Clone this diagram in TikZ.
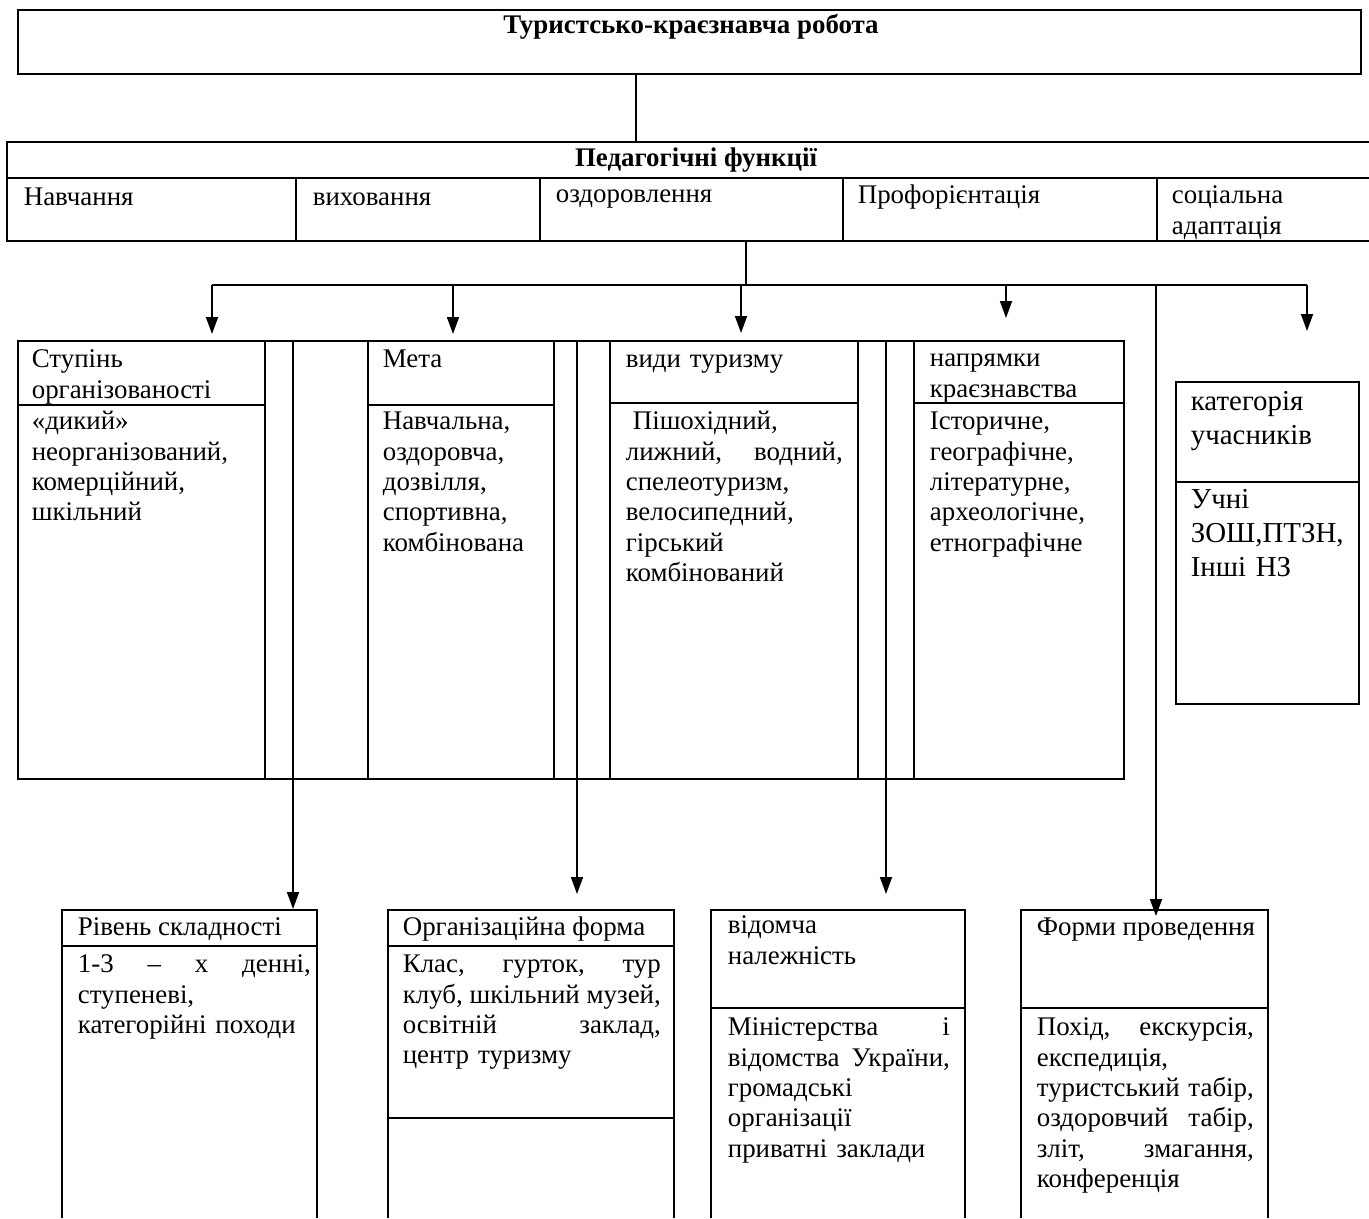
\documentclass[tikz,border=0pt]{standalone}
\usepackage{fontspec}
\setmainfont{Liberation Serif}
\usetikzlibrary{arrows.meta}
\setlength{\parindent}{0pt}
\newcommand{\jline}[1]{\leavevmode\hbox to \hsize{#1}}
\begin{document}
\begin{tikzpicture}[x=1bp,y=-1bp,line width=1.7bp,
  txt/.style={anchor=north west,inner sep=0pt,align=left,
    font={\fontsize{27}{30.5}\selectfont}},
  one/.style={anchor=base west,inner sep=0pt,font={\fontsize{27}{30.5}\selectfont}},
  bold/.style={anchor=base,inner sep=0pt,font={\fontsize{27}{30}\selectfont\bfseries}},
  arr/.style={-{Triangle[length=17bp,width=12bp]}},
  frame/.style={line width=1.8bp}]
\useasboundingbox (0,0) rectangle (1369,1218);

% ---------- top box ----------
\draw[frame] (18,10) rectangle (1361,74);
\node[bold] (title) at (691,33) {Туристсько-краєзнавча робота};
\coordinate (topS) at (636,74);
\coordinate (pedN) at (636,142);
\draw (topS) -- (pedN);

% ---------- pedagogical functions table ----------
\draw[frame] (1369,142) -- (7,142) -- (7,241) -- (1369,241);
\draw (7,178) -- (1369,178);
\foreach \xx in {296,540,843,1157} \draw (\xx,178) -- (\xx,241);
\node[bold] (ped) at (696,166) {Педагогічні функції};
\node[one] (f1) at (23,205) {Навчання};
\node[one] (f2) at (312,205) {виховання};
\node[one] (f3) at (555,202) {оздоровлення};
\node[one] (f4) at (857,203) {Профорієнтація};
\node[txt,text width=190bp] (f5) at (1171,181.6) {\strut соціальна\\адаптація};

% ---------- bus ----------
\coordinate (pedS) at (746,241);
\coordinate (busM) at (746,285);
\draw (pedS) -- (busM);
\coordinate (busL) at (212,285);
\coordinate (busR) at (1307,285);
\draw (busL) -- (busR);
\coordinate (b1) at (212,285);   \coordinate (t1) at (212,334);
\coordinate (b2) at (453,285);   \coordinate (t2) at (453,334);
\coordinate (b3) at (741,285);   \coordinate (t3) at (741,333);
\coordinate (b4) at (1006,285);  \coordinate (t4) at (1006,318);
\coordinate (b5) at (1307,285);  \coordinate (t5) at (1307,331);
\foreach \i in {1,...,5} \draw[arr] (b\i) -- (t\i);

% ---------- second row table ----------
\draw[frame] (18,341) rectangle (1124,779);
\foreach \xx in {265,368,554,610,858,914} \draw (\xx,341) -- (\xx,779);
\draw (18,405) -- (265,405);
\draw (368,405) -- (554,405);
\draw (610,403) -- (858,403);
\draw (914,403) -- (1124,403);

\node[txt,text width=230bp] (h1) at (31,345.6) {\strut Ступінь\\організованості};
\node[txt,text width=230bp] (c1) at (31,407.6) {\strut «дикий»\\неорганізований,\\комерційний,\\шкільний};
\node[txt,text width=170bp] (h2) at (382,345.6) {\strut Мета};
\node[txt,text width=170bp] (c2) at (382,407.6) {\strut Навчальна,\\оздоровча,\\дозвілля,\\спортивна,\\комбінована};
\node[txt,text width=217bp] (h3) at (625,345.6) {\strut види туризму};
\node[txt,text width=217bp] (c3) at (625,407.6) {\strut\hspace{7bp}Пішохідний,\\\jline{лижний,\hfill водний,}\\спелеотуризм,\\велосипедний,\\гірський\\комбінований};
\node[txt,text width=190bp] (h4) at (929,344.6) {\strut напрямки\\краєзнавства};
\node[txt,text width=190bp] (c4) at (929,407.6) {\strut Історичне,\\географічне,\\літературне,\\археологічне,\\етнографічне};

% ---------- category box ----------
\draw[frame] (1176,382) rectangle (1359,704);
\draw (1176,482) -- (1359,482);
\node[txt,text width=170bp,font={\fontsize{29}{34}\selectfont}] (h5) at (1190,386) {\strut категорія\\учасників};
\node[txt,text width=170bp,font={\fontsize{29}{34}\selectfont}] (c5) at (1190,484) {\strut Учні\\ЗОШ,ПТЗН,\\Інші НЗ};

% ---------- third row boxes (open at the bottom) ----------
\draw[frame] (62,1218) -- (62,910) -- (317,910) -- (317,1218);
\draw (62,946) -- (317,946);
\draw[frame] (388,1218) -- (388,910) -- (674,910) -- (674,1218);
\draw (388,946) -- (674,946);
\draw (388,1118) -- (674,1118);
\draw[frame] (711,1218) -- (711,910) -- (965,910) -- (965,1218);
\draw (711,1008) -- (965,1008);
\draw[frame] (1021,1218) -- (1021,910) -- (1268,910) -- (1268,1218);
\draw (1021,1008) -- (1268,1008);

\node[one] (h6) at (77,935) {Рівень складності};
\node[txt,text width=233bp] (c6) at (77,950.6) {\jline{\strut 1-3\hfill –\hfill х\hfill денні,}\\ступеневі,\\категорійні походи};
\node[one] (h7) at (402,935) {Організаційна форма};
\node[txt,text width=258bp] (c7) at (402,950.6) {\jline{\strut Клас,\hfill гурток,\hfill тур}\\\jline{клуб,\hfill шкільний\hfill музей,}\\\jline{освітній\hfill заклад,}\\центр туризму};
\node[txt,text width=222bp] (h8) at (727,911.6) {\strut відомча\\належність};
\node[txt,text width=222bp] (c8) at (727,1013.6) {\jline{\strut Міністерства\hfill і}\\\jline{відомства\hfill України,}\\громадські\\організації\\приватні заклади};
\node[one] (h9) at (1036,935) {Форми проведення};
\node[txt,text width=217bp] (c9) at (1036,1013.6) {\jline{\strut Похід,\hfill екскурсія,}\\експедиція,\\\jline{туристський\hfill табір,}\\\jline{оздоровчий\hfill табір,}\\\jline{зліт,\hfill змагання,}\\конференція};

% ---------- long connectors ----------
\coordinate (s1) at (293,341);  \coordinate (e1) at (293,909);
\coordinate (s2) at (577,341);  \coordinate (e2) at (577,894);
\coordinate (s3) at (886,341);  \coordinate (e3) at (886,894);
\coordinate (s4) at (1156,285); \coordinate (e4) at (1156,916);
\foreach \i in {1,...,4} \draw[arr] (s\i) -- (e\i);
\end{tikzpicture}
\end{document}
